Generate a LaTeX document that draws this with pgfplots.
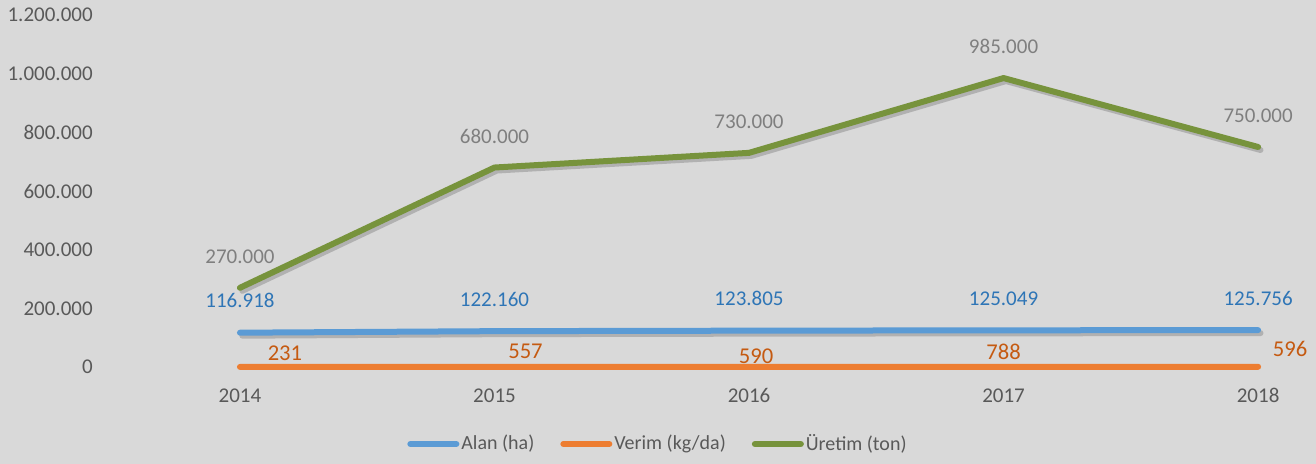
\documentclass[border=0pt]{standalone}
\usepackage{fontspec}
\setmainfont{Carlito}
\usepackage{pgfplots}
\usepackage{pgfplotstable}
\pgfplotsset{compat=1.18}

\definecolor{bg}{HTML}{D9D9D9}
\definecolor{alan}{HTML}{5B9BD5}
\definecolor{alantxt}{HTML}{2E75B6}
\definecolor{verim}{HTML}{ED7D31}
\definecolor{verimtxt}{HTML}{C55A11}
\definecolor{uretim}{HTML}{77933C}
\definecolor{uretimtxt}{HTML}{7F7F7F}
\definecolor{ticktxt}{HTML}{595959}

% yil, deger, label offsets (pt)
\pgfplotstableread{
yil  deger   dx   dy
2014 116918  0    16
2015 122160  0    16
2016 123805  0    16
2017 125049  0    16
2018 125756  0    16
}\alan
\pgfplotstableread{
yil  deger dx   dy
2014 231   22.5 7
2015 557   15.5 8
2016 590   3.5  5.5
2017 788   0    7.5
2018 596   16   9
}\verim
\pgfplotstableread{
yil  deger   dx  dy
2014 270000  0   15.7
2015 680000  0   15.7
2016 730000  0   15.7
2017 985000  0   15.7
2018 750000  0   15.7
}\uretim

\begin{document}
\begin{tikzpicture}
\fill[bg] (0,0) rectangle (658pt,232pt);
\begin{axis}[
    at={(56.35pt,48.5pt)}, anchor=south west,
    scale only axis, width=598.15pt, height=176pt,
    xmin=2013.5, xmax=2018.2,
    ymin=0, ymax=1200000,
    xtick={2014,2015,2016,2017,2018},
    ytick={0,200000,400000,600000,800000,1000000,1200000},
    scaled y ticks=false,
    axis line style={draw=none},
    major tick style={draw=none},
    clip=false,
    /pgf/number format/fixed,
    /pgf/number format/precision=0,
    /pgf/number format/1000 sep={.},
    /pgf/number format/assume math mode=true,
    ticklabel style={font=\fontsize{10.5}{12}\selectfont, text=ticktxt, inner sep=0pt},
    yticklabel style={anchor=east, xshift=-9.8pt},
    xticklabel style={anchor=north, yshift=-10.5pt, /pgf/number format/1000 sep={}},
    legend style={at={(0.4558,-0.21875)}, anchor=center, draw=none, fill=none,
        legend columns=3, font=\fontsize{10}{12}\selectfont, text=ticktxt,
        nodes={inner xsep=1pt},
        /tikz/every even column/.append style={column sep=12pt}},
    legend image code/.code={\draw[#1, line width=3pt, line cap=round] (0pt,0pt) -- (23pt,0pt);},
    visualization depends on={\thisrow{dx} \as \dx},
    visualization depends on={\thisrow{dy} \as \dy},
    every node near coord/.style={anchor=center, inner sep=0pt, xshift=\dx pt, yshift=\dy pt},
]
% shadows
\addplot[black, opacity=0.18, line width=3pt, line cap=round, line join=round, xshift=1.2pt, yshift=-1.5pt, forget plot] table[x=yil, y=deger] {\alan};
\addplot[black, opacity=0.18, line width=3pt, line cap=round, line join=round, xshift=1.2pt, yshift=-1.5pt, forget plot] table[x=yil, y=deger] {\uretim};

\addplot[alan, line width=3pt, line cap=round, line join=round,
    nodes near coords, nodes near coords style={text=alantxt, font=\fontsize{10.5}{12}\selectfont}]
    table[x=yil, y=deger] {\alan};
\addlegendentry{Alan (ha)}
\addplot[verim, line width=3pt, line cap=round, line join=round,
    nodes near coords, nodes near coords style={text=verimtxt, font=\fontsize{11.3}{13}\selectfont}]
    table[x=yil, y=deger] {\verim};
\addlegendentry{Verim (kg/da)}
\addplot[uretim, line width=3pt, line cap=round, line join=round,
    nodes near coords, nodes near coords style={text=uretimtxt, font=\fontsize{10.5}{12}\selectfont}]
    table[x=yil, y=deger] {\uretim};
\addlegendentry{Üretim (ton)}
\end{axis}
\end{tikzpicture}
\end{document}
